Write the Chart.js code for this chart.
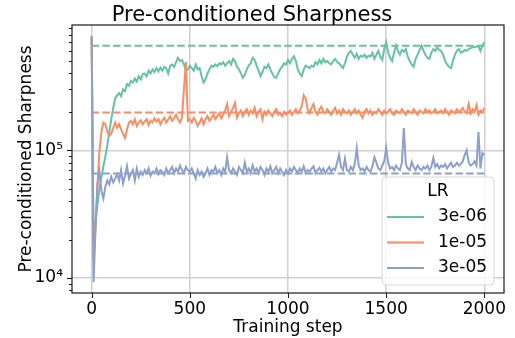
<!DOCTYPE html>
<html>
<head>
<meta charset="utf-8">
<script src="https://cdn.jsdelivr.net/npm/chart.js@4.4.0/dist/chart.umd.min.js"></script>
<style>
  html, body { margin: 0; padding: 0; background: #fff; }
  #wrap { width: 515px; height: 338px; }
</style>
</head>
<body>
<div id="wrap"><canvas id="sharpChart" width="515" height="338"></canvas></div>
<script>
// -----------------------------
// Data (sharpness values in thousands, one point every 10 steps)
// -----------------------------
const steps = Array.from({ length: 201 }, (_, i) => i * 10);

const lr3e6 = [
  780, 20, 28, 38, 50, 62, 75, 90, 110, 140,
  175, 215, 255, 270, 280, 265, 300, 290, 330, 320,
  350, 340, 365, 345, 380, 360, 395, 400, 380, 420,
  400, 430, 410, 440, 415, 445, 420, 450, 440, 400,
  460, 470, 450, 490, 530, 500, 510, 470, 420, 430,
  460, 440, 420, 470, 430, 440, 380, 340, 360, 400,
  430, 460, 450, 470, 455, 480, 470, 490, 460, 480,
  500, 470, 520, 500, 450, 430, 400, 370, 390, 430,
  460, 480, 530, 510, 460, 420, 380, 410, 450, 440,
  470, 430, 400, 375, 370, 400, 430, 450, 480, 470,
  510, 480, 520, 545, 500, 430, 400, 380, 430, 460,
  450, 440, 460, 450, 490, 470, 510, 480, 520, 490,
  500, 480, 470, 500, 520, 490, 480, 460, 440, 480,
  540, 580, 600, 560, 530, 570, 520, 550, 540, 560,
  530, 550, 540, 580, 520, 560, 600, 540, 510, 620,
  700, 580, 530, 500, 580, 660, 600, 560, 610, 590,
  620, 540, 500, 470, 450, 520, 560, 610, 660, 600,
  560, 530, 520, 580, 620, 600, 640, 610, 600, 560,
  500, 470, 450, 440, 500, 560, 600, 620, 580, 590,
  610, 600, 620, 630, 640, 640, 650, 650, 600, 660,
  700
];

const lr1e5 = [
  780, 14, 25, 55, 100, 140, 165, 160, 140, 130,
  135, 150, 165, 150, 160, 145, 135, 125, 145, 165,
  170, 160, 175, 155, 165, 172, 160, 168, 175, 158,
  170, 165, 178, 168, 175, 160, 172, 180, 165, 175,
  185, 170, 178, 190, 175, 165, 180, 300, 490, 170,
  175, 165, 180, 170, 155, 165, 178, 160, 175, 185,
  170, 180, 190, 175, 185, 195, 178, 190, 205, 230,
  185, 200, 215, 235, 180, 195, 205, 185, 200, 210,
  190, 205, 195, 215, 185, 200, 210, 175, 200, 190,
  205, 195, 185, 200, 210, 190, 195, 185, 200, 190,
  195, 205, 190, 200, 210, 195, 205, 220, 270, 255,
  210, 195, 215, 230, 200, 190, 210, 220, 200, 195,
  210, 200, 190, 205, 215, 195, 205, 190, 210, 200,
  195, 205, 190, 200, 210, 195, 205, 190, 180, 200,
  210, 195, 205, 190, 200, 195, 210, 200, 190, 205,
  195, 200, 210, 195, 190, 205, 200, 195, 210, 200,
  190, 205, 200, 195, 210, 200, 190, 205, 200, 195,
  210, 200, 205, 195, 200, 210, 195, 200, 205, 195,
  210, 200, 190, 205, 200, 195, 210, 200, 205, 215,
  200, 195, 230, 195, 210, 200, 225, 190, 205, 200,
  215
];

const lr3e5 = [
  780, 9.3, 25, 55, 68, 48, 42, 52, 58, 54,
  62, 56, 60, 65, 58, 70, 55, 63, 75, 60,
  65, 70, 58, 72, 62, 68, 64, 70, 66, 72,
  63, 68, 66, 72, 65, 70, 68, 64, 72, 66,
  70, 74, 66, 72, 68, 76, 70, 66, 74, 70,
  68, 72, 66, 60, 70, 64, 68, 62, 66, 72,
  64, 70, 68, 74, 66, 70, 64, 72, 68, 88,
  70, 66, 72, 68, 64, 74, 70, 66, 80, 68,
  72, 66, 76, 68, 72, 66, 74, 70, 64, 72,
  68, 75, 66, 70, 74, 66, 72, 68, 64, 70,
  66, 72, 68, 74, 70, 66, 72, 68, 75, 66,
  70, 68, 72, 75, 66, 70, 73, 68, 72, 66,
  70, 74, 68, 72, 70, 80, 92, 74, 70, 86,
  70, 68, 74, 70, 78, 104, 76, 70, 72, 68,
  74, 70, 68, 75, 88, 80, 72, 70, 76, 82,
  104, 80, 72, 74, 70, 76, 72, 70, 80, 149,
  78, 72, 70, 81, 74, 70, 76, 72, 70, 74,
  72, 76, 70, 74, 87, 74, 78, 72, 76, 74,
  78, 72, 76, 80, 74, 76, 80, 76, 78, 82,
  92, 100, 80, 76, 78, 82, 76, 139, 72, 95,
  92
];

// dashed reference level per learning rate (thousands)
const refLevels = [658, 198, 65.8];

const seriesLabels = ['3e-06', '1e-05', '3e-05'];
const seriesColors = ['#66c2a5', '#fc8d62', '#8da0cb'];
const seriesValues = [lr3e6, lr1e5, lr3e5];

const xTicks = [0, 500, 1000, 1500, 2000];
const yMajor = [1e4, 1e5];
const yMajorLabels = ['10\u2074', '10\u2075'];
const yMinor = [8e3, 9e3, 2e4, 3e4, 4e4, 5e4, 6e4, 7e4, 8e4, 9e4, 2e5, 3e5, 4e5, 5e5, 6e5, 7e5, 8e5, 9e5];

const FONT = "'DejaVu Sans', sans-serif";
const GRID = '#d0d0d0';
const INK = '#1a1a1a';

// -----------------------------
// Build datasets
// -----------------------------
const datasets = [];
seriesValues.forEach((vals, i) => {
  datasets.push({
    label: seriesLabels[i],
    data: steps.map((s, j) => ({ x: s, y: vals[j] * 1e3 })),
    borderColor: seriesColors[i],
    borderWidth: 2,
    pointRadius: 0,
    tension: 0,
    order: 6 - i * 2
  });
  datasets.push({
    label: seriesLabels[i] + ' ref',
    data: [
      { x: steps[0], y: refLevels[i] * 1e3 },
      { x: steps[steps.length - 1], y: refLevels[i] * 1e3 }
    ],
    borderColor: seriesColors[i],
    borderWidth: 2,
    borderDash: [7.5, 3.2],
    pointRadius: 0,
    order: 5 - i * 2
  });
});

// -----------------------------
// Frame, tick marks and legend (matplotlib look)
// -----------------------------
const framePlugin = {
  id: 'frame',
  afterDraw(chart) {
    const { ctx, chartArea: a, scales: { x, y } } = chart;
    ctx.save();

    // tick marks
    ctx.strokeStyle = INK;
    ctx.lineWidth = 1;
    ctx.beginPath();
    xTicks.forEach(v => {
      const px = Math.round(x.getPixelForValue(v)) + 0.5;
      ctx.moveTo(px, a.bottom); ctx.lineTo(px, a.bottom + 5);
    });
    yMajor.forEach(v => {
      const py = Math.round(y.getPixelForValue(v)) + 0.5;
      ctx.moveTo(a.left, py); ctx.lineTo(a.left - 5, py);
    });
    yMinor.forEach(v => {
      const py = Math.round(y.getPixelForValue(v)) + 0.5;
      ctx.moveTo(a.left, py); ctx.lineTo(a.left - 3, py);
    });
    ctx.stroke();

    // spines
    ctx.lineWidth = 1.2;
    ctx.strokeStyle = INK;
    ctx.strokeRect(a.left, a.top, a.right - a.left, a.bottom - a.top);

    // legend
    const bw = 112, bh = 108;
    const bx = a.right - 10 - bw, by = a.bottom - 8 - bh;
    ctx.beginPath();
    ctx.roundRect(bx, by, bw, bh, 4);
    ctx.fillStyle = 'rgba(255,255,255,0.8)';
    ctx.fill();
    ctx.strokeStyle = '#d8d8d8';
    ctx.lineWidth = 1;
    ctx.stroke();

    ctx.font = '17px ' + FONT;
    ctx.fillStyle = '#000';
    ctx.textBaseline = 'middle';
    ctx.textAlign = 'center';
    ctx.fillText('LR', bx + 56, by + 15);

    ctx.textAlign = 'left';
    seriesLabels.forEach((lab, i) => {
      const ly = by + 40 + i * 25.5;
      ctx.strokeStyle = seriesColors[i];
      ctx.lineWidth = 2;
      ctx.beginPath();
      ctx.moveTo(bx + 5, ly); ctx.lineTo(bx + 42, ly);
      ctx.stroke();
      ctx.fillText(lab, bx + 56, ly);
    });

    ctx.restore();
  }
};

Chart.defaults.font.family = FONT;
Chart.defaults.color = '#000';

new Chart(document.getElementById('sharpChart'), {
  type: 'line',
  data: { datasets },
  options: {
    responsive: false,
    animation: false,
    layout: { padding: { left: 0, right: 11, top: 0, bottom: 0 } },
    plugins: {
      legend: { display: false },
      tooltip: { enabled: false },
      title: {
        display: true,
        text: 'Pre-conditioned Sharpness',
        color: '#000',
        font: { size: 21, weight: 'normal', lineHeight: '20px' },
        padding: { top: 6, bottom: -1 }
      }
    },
    scales: {
      x: {
        type: 'linear',
        min: -100,
        max: 2100,
        afterBuildTicks: s => { s.ticks = xTicks.map(v => ({ value: v })); },
        afterFit: s => { s.height = 45; },
        ticks: { font: { size: 17 }, padding: 6, maxRotation: 0, autoSkip: false, callback: v => String(v) },
        grid: { color: GRID, lineWidth: 1.5, drawTicks: false },
        border: { display: false },
        title: { display: true, text: 'Training step', font: { size: 17 }, padding: { top: 0, bottom: 0 } }
      },
      y: {
        type: 'logarithmic',
        min: 7630,
        max: 957000,
        afterBuildTicks: s => { s.ticks = yMajor.map(v => ({ value: v })); },
        afterFit: s => { s.width = 72; },
        ticks: {
          font: { size: 17 },
          padding: 9,
          autoSkip: false,
          callback: v => yMajorLabels[yMajor.indexOf(v)] ?? ''
        },
        grid: { color: GRID, lineWidth: 1.5, drawTicks: false },
        border: { display: false },
        title: { display: true, text: 'Pre-conditioned Sharpness', font: { size: 17 }, padding: { top: 16, bottom: 0 } }
      }
    }
  },
  plugins: [framePlugin]
});
</script>
</body>
</html>
